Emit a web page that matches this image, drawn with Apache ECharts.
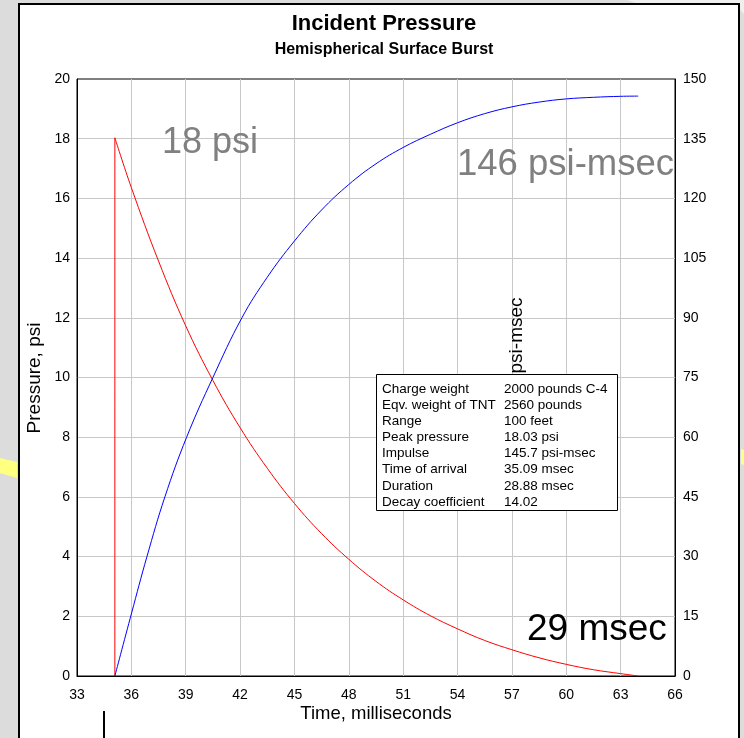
<!DOCTYPE html>
<html>
<head>
<meta charset="utf-8">
<script src="https://cdn.jsdelivr.net/npm/echarts@6/dist/echarts.min.js"></script>
<style>
  html, body { margin: 0; padding: 0; background: #dcdcdc; }
  #chart { width: 744px; height: 738px; }
</style>
</head>
<body>
<div id="chart"></div>
<script>
// ---- data ----
const titleText = 'Incident Pressure';
const subtitleText = 'Hemispherical Surface Burst';
const xAxisTitle = 'Time, milliseconds';
const leftAxisTitle = 'Pressure, psi';
const rightAxisTitle = 'Impulse, psi-msec';

const xMin = 33, xMax = 66, xStep = 3;
const pMin = 0, pMax = 20, pStep = 2;
const iMin = 0, iMax = 150, iStep = 15;

// pressure curve (left axis)
const pressureTimes = [35.09, 36, 37.5, 39, 40.5, 42, 43.5, 45, 46.5, 48, 49.5, 51, 52.5, 54, 55.5, 57, 58.5, 60, 61.5, 63, 63.95];
const pressure      = [18.03, 16.36, 13.9, 11.73, 9.9, 8.32, 6.96, 5.78, 4.77, 3.91, 3.17, 2.55, 2.02, 1.58, 1.19, 0.88, 0.61, 0.39, 0.21, 0.08, 0];

// impulse curve (right axis)
const impulseTimes = [35.09, 36, 36.86, 37.85, 39.05, 40.5, 42.1, 43.5, 45, 46.5, 48, 49.5, 51, 52.5, 54, 55.5, 57, 58.5, 60, 61.5, 63, 63.97];
const impulse      = [0, 15.6, 30, 45, 60, 75, 90, 100.2, 109.3, 117.1, 123.5, 128.7, 132.8, 136.1, 139.0, 141.3, 143, 144.2, 145, 145.4, 145.65, 145.7];

const peakLabel = '18 psi';
const impulseLabel = '146 psi-msec';
const durationLabel = '29 msec';

const infoLabels = ['Charge weight', 'Eqv. weight of TNT', 'Range', 'Peak pressure', 'Impulse', 'Time of arrival', 'Duration', 'Decay coefficient'];
const infoValues = ['2000 pounds C-4', '2560 pounds', '100 feet', '18.03 psi', '145.7 psi-msec', '35.09 msec', '28.88 msec', '14.02'];

// ---- chart ----
const FONT = '"Liberation Sans", Arial, Helvetica, sans-serif';
const chart = echarts.init(document.getElementById('chart'), null, { renderer: 'canvas' });

const pressureData = pressureTimes.map((t, i) => [t, pressure[i]]);
const impulseData = impulseTimes.map((t, i) => [t, impulse[i]]);
const frontData = [[pressureTimes[0], pMin], [pressureTimes[0], pressure[0]]];

const infoTexts = [];
infoLabels.forEach((lab, i) => {
  const y = 389 + i * 16.15;
  infoTexts.push({ type: 'text', z: 101, x: 382, y: y,
    style: { text: lab, fontSize: 13.5, fontFamily: FONT, fill: '#000', textAlign: 'left', textVerticalAlign: 'middle' } });
  infoTexts.push({ type: 'text', z: 101, x: 504, y: y,
    style: { text: infoValues[i], fontSize: 13.5, fontFamily: FONT, fill: '#000', textAlign: 'left', textVerticalAlign: 'middle' } });
});

const option = {
  animation: false,
  backgroundColor: '#ffffff',
  textStyle: { fontFamily: FONT },
  title: {
    text: titleText,
    subtext: subtitleText,
    left: 379,
    textAlign: 'center',
    top: 8,
    itemGap: 7,
    textStyle: { fontSize: 22, fontWeight: 'bold', color: '#000', fontFamily: FONT },
    subtextStyle: { fontSize: 16, fontWeight: 'bold', color: '#000', fontFamily: FONT }
  },
  grid: {
    left: 77, top: 79, width: 598, height: 597,
    show: true, backgroundColor: '#fff', borderColor: '#000', borderWidth: 1
  },
  xAxis: {
    type: 'value', min: xMin, max: xMax, interval: xStep,
    axisLine: { show: true, onZero: false, lineStyle: { color: '#000', width: 1 } },
    axisTick: { show: false },
    axisLabel: { fontSize: 14, color: '#000', margin: 12, fontFamily: FONT },
    splitLine: { show: true, showMinLine: false, showMaxLine: false, lineStyle: { color: '#c8c8c8', width: 1 } }
  },
  yAxis: [
    {
      type: 'value', position: 'left', min: pMin, max: pMax, interval: pStep,
      axisLine: { show: true, onZero: false, lineStyle: { color: '#000', width: 1 } },
      axisTick: { show: false },
      axisLabel: { fontSize: 14, color: '#000', margin: 7, fontFamily: FONT },
      splitLine: { show: true, showMinLine: false, showMaxLine: false, lineStyle: { color: '#c8c8c8', width: 1 } }
    },
    {
      type: 'value', position: 'right', min: iMin, max: iMax, interval: iStep,
      axisLine: { show: true, onZero: false, lineStyle: { color: '#000', width: 1 } },
      axisTick: { show: false },
      axisLabel: { fontSize: 14, color: '#000', margin: 8, fontFamily: FONT },
      splitLine: { show: false }
    }
  ],
  series: [
    {
      name: 'Pressure front', type: 'line', yAxisIndex: 0, data: frontData,
      showSymbol: false, smooth: false, z: 3,
      lineStyle: { color: '#ff0000', width: 1 }, itemStyle: { color: '#ff0000' }
    },
    {
      name: 'Pressure', type: 'line', yAxisIndex: 0, data: pressureData,
      showSymbol: false, smooth: 0.4, z: 3,
      lineStyle: { color: '#ff0000', width: 1 }, itemStyle: { color: '#ff0000' }
    },
    {
      name: 'Impulse', type: 'line', yAxisIndex: 1, data: impulseData,
      showSymbol: false, smooth: 0.4, z: 3,
      lineStyle: { color: '#0000ff', width: 1 }, itemStyle: { color: '#0000ff' }
    }
  ],
  graphic: [
    // outer grey margins and panel border
    { type: 'rect', z: 0, shape: { x: 0, y: 0, width: 18, height: 738 }, style: { fill: '#dcdcdc' } },
    { type: 'rect', z: 0, shape: { x: 740, y: 0, width: 4, height: 738 }, style: { fill: '#dcdcdc' } },
    { type: 'rect', z: 0, shape: { x: 0, y: 0, width: 744, height: 3 }, style: { fill: '#dcdcdc' } },
    { type: 'polygon', z: 0, shape: { points: [[627, 0], [744, 0], [744, 14], [740, 10], [740, 3], [636, 3]] }, style: { fill: '#efefef' } },
    { type: 'rect', z: 1, shape: { x: 19, y: 4, width: 720, height: 800 }, style: { fill: 'none', stroke: '#000', lineWidth: 2 } },
    { type: 'polygon', z: 1, shape: { points: [[0, 458], [17, 462], [17, 478], [0, 473]] }, style: { fill: '#ffff80' } },
    { type: 'polygon', z: 1, shape: { points: [[741, 449], [744, 450], [744, 465], [741, 464]] }, style: { fill: '#ffff80' } },
    { type: 'rect', z: 1, shape: { x: 103, y: 711, width: 2, height: 27 }, style: { fill: '#000' } },
    // axis titles
    { type: 'text', z: 5, x: 35, y: 378, rotation: Math.PI / 2,
      style: { text: leftAxisTitle, fontSize: 19, fontFamily: FONT, fill: '#000', textAlign: 'center', textVerticalAlign: 'middle' } },
    { type: 'text', z: 5, x: 376, y: 714,
      style: { text: xAxisTitle, fontSize: 18.5, fontFamily: FONT, fill: '#000', textAlign: 'center', textVerticalAlign: 'middle' } },
    { type: 'text', z: 5, x: 517, y: 374, rotation: Math.PI / 2,
      style: { text: rightAxisTitle, fontSize: 19, fontFamily: FONT, fill: '#000', textAlign: 'center', textVerticalAlign: 'middle' } },
    // annotations
    { type: 'text', z: 6, x: 162, y: 143,
      style: { text: peakLabel, fontSize: 36, fontFamily: FONT, fill: '#808080', textAlign: 'left', textVerticalAlign: 'middle' } },
    { type: 'text', z: 6, x: 457, y: 165,
      style: { text: impulseLabel, fontSize: 36.5, fontFamily: FONT, fill: '#808080', textAlign: 'left', textVerticalAlign: 'middle' } },
    { type: 'rect', z: 7, shape: { x: 676, y: 145, width: 24, height: 40 }, style: { fill: '#fff' } },
    { type: 'text', z: 6, x: 527, y: 630,
      style: { text: durationLabel, fontSize: 37, fontFamily: FONT, fill: '#000', textAlign: 'left', textVerticalAlign: 'middle' } },
    // info box
    { type: 'rect', z: 100, shape: { x: 376.5, y: 374.5, width: 241, height: 136 }, style: { fill: '#fff', stroke: '#000', lineWidth: 1 } }
  ].concat(infoTexts)
};

chart.setOption(option);
</script>
</body>
</html>
